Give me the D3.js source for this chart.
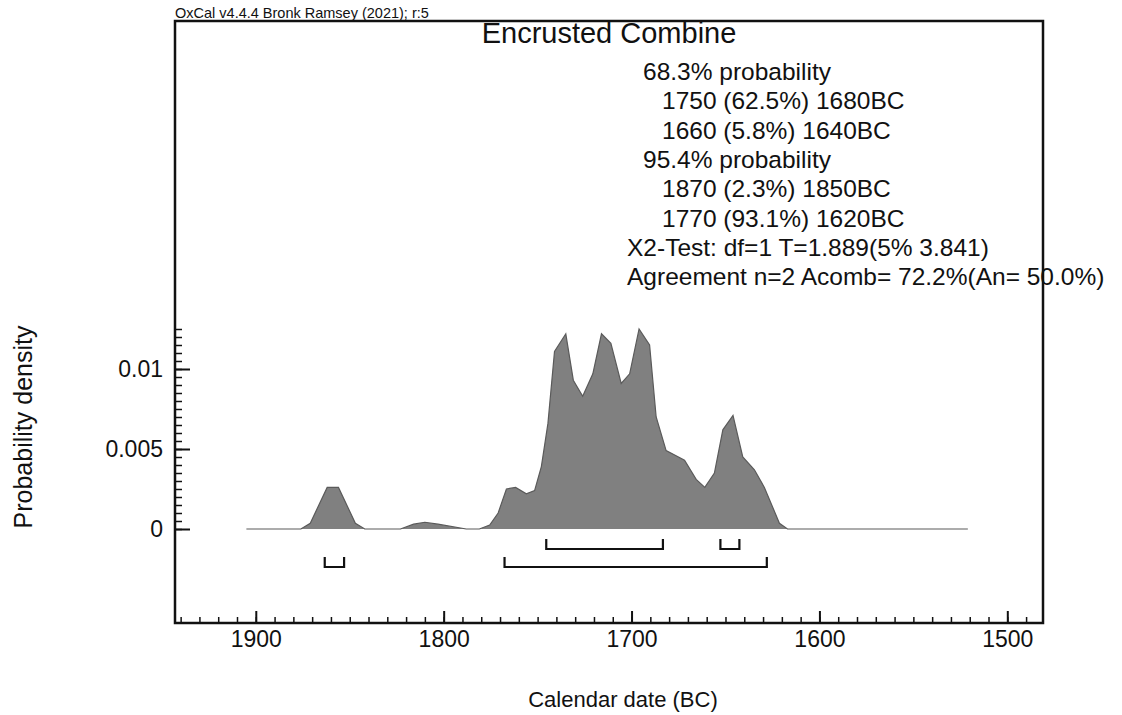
<!DOCTYPE html>
<html>
<head>
<meta charset="utf-8">
<script src="https://cdn.jsdelivr.net/npm/d3@7"></script>
<style>
  body { margin: 0; background: #fff; }
  text { font-family: "Liberation Sans", Arial, sans-serif; fill: #111; }
</style>
</head>
<body>
<svg id="chart" width="1122" height="715"></svg>
<script>
// calendar years BC and probability density
var years = [1905, 1876, 1871, 1862, 1856, 1847, 1842, 1823, 1816, 1810, 1803, 1788,
  1781, 1775.5, 1771, 1766.6, 1761.7, 1756, 1751.6, 1748, 1744.5, 1741, 1735, 1731, 1726,
  1720.6, 1716, 1711, 1705.5, 1701, 1696, 1690.4, 1686.9, 1681.6, 1671.8, 1665.6, 1661,
  1655.9, 1651.4, 1646, 1640.8, 1634.6, 1629.3, 1621.3, 1617, 1521];
var density = [0, 0, 0.00036, 0.0026, 0.0026, 0.00036, 0, 0, 0.0003, 0.00042, 0.0003, 0,
  0, 0.00025, 0.001, 0.0025, 0.0026, 0.0022, 0.0024, 0.0039, 0.0066, 0.0111, 0.0122, 0.0093, 0.0083,
  0.0097, 0.0122, 0.0116, 0.0091, 0.0097, 0.0125, 0.0115, 0.0070, 0.0049, 0.0043, 0.0031, 0.0026,
  0.0035, 0.0062, 0.0071, 0.0045, 0.0037, 0.0026, 0.00036, 0, 0];

// highest posterior density ranges (drawn extents)
var range68 = [[1745.4, 1683.3], [1652.7, 1642.6]];
var range95 = [[1863.3, 1853], [1767.6, 1628]];

var majorYears = [1900, 1800, 1700, 1600, 1500];
var yTicks = [0, 0.005, 0.01];
var yTickLabels = ["0", "0.005", "0.01"];

var title = "Encrusted Combine";
var header = "OxCal v4.4.4 Bronk Ramsey (2021); r:5";
var infoLines = [
  [0, "68.3% probability"],
  [1, "1750 (62.5%) 1680BC"],
  [1, "1660 (5.8%) 1640BC"],
  [0, "95.4% probability"],
  [1, "1870 (2.3%) 1850BC"],
  [1, "1770 (93.1%) 1620BC"],
  [-1, "X2-Test: df=1 T=1.889(5% 3.841)"],
  [-1, "Agreement n=2 Acomb= 72.2%(An= 50.0%)"]
];

var svg = d3.select("#chart");
var frameL = 175, frameR = 1043, frameT = 21, frameB = 623;

var x = d3.scaleLinear().domain([1943, 1481]).range([frameL, frameR]);
var y = d3.scaleLinear().domain([0, 0.0125]).range([529, 329]);

var pts = years.map(function(d, i) { return [d, density[i]]; });

// density area
svg.append("path")
   .datum(pts)
   .attr("d", d3.area().x(function(d) { return x(d[0]); }).y0(y(0)).y1(function(d) { return y(d[1]); }))
   .attr("fill", "#808080");
svg.append("path")
   .datum(pts)
   .attr("d", d3.line().x(function(d) { return x(d[0]); }).y(function(d) { return y(d[1]); }))
   .attr("fill", "none")
   .attr("stroke", "#5a5a5a")
   .attr("stroke-width", 1.2);

// range brackets
function brackets(ranges, yy) {
  svg.selectAll(null)
     .data(ranges)
     .enter().append("path")
     .attr("d", function(d) {
       return "M" + x(d[0]) + "," + (yy - 10) + "V" + yy + "H" + x(d[1]) + "V" + (yy - 10);
     })
     .attr("fill", "none")
     .attr("stroke", "#111")
     .attr("stroke-width", 2.2);
}
brackets(range68, 549);
brackets(range95, 567);

// x axis, minor then major
var minorX = d3.range(1940, 1480, -10);
svg.append("g")
   .attr("transform", "translate(0," + frameB + ")")
   .call(d3.axisBottom(x).tickValues(minorX).tickSize(-6).tickFormat(""))
   .call(function(g) { g.select(".domain").remove(); g.selectAll("line").attr("stroke", "#111").attr("stroke-width", 1.5); });
var xg = svg.append("g")
   .attr("transform", "translate(0," + frameB + ")")
   .call(d3.axisBottom(x).tickValues(majorYears).tickSize(-12).tickPadding(8).tickFormat(d3.format("d")));
xg.select(".domain").remove();
xg.selectAll("line").attr("stroke", "#111").attr("stroke-width", 2);
xg.selectAll("text").attr("font-size", 23).attr("font-family", "Liberation Sans, Arial, sans-serif").attr("fill", "#111");

// y axis
var minorY = d3.range(0, 0.01251, 0.0005);
svg.append("g")
   .attr("transform", "translate(" + frameL + ",0)")
   .call(d3.axisLeft(y).tickValues(minorY).tickSize(-7).tickFormat(""))
   .call(function(g) { g.select(".domain").remove(); g.selectAll("line").attr("stroke", "#111").attr("stroke-width", 1.5); });
var yg = svg.append("g")
   .attr("transform", "translate(" + frameL + ",0)")
   .call(d3.axisLeft(y).tickValues(yTicks).tickSize(-15).tickPadding(12)
     .tickFormat(function(d, i) { return yTickLabels[i]; }));
yg.select(".domain").remove();
yg.selectAll("line").attr("stroke", "#111").attr("stroke-width", 2);
yg.selectAll("text").attr("font-size", 23).attr("font-family", "Liberation Sans, Arial, sans-serif").attr("fill", "#111");

// frame
svg.append("rect")
   .attr("x", frameL).attr("y", frameT)
   .attr("width", frameR - frameL).attr("height", frameB - frameT)
   .attr("fill", "none").attr("stroke", "#111").attr("stroke-width", 2.5);

// texts
svg.append("text").attr("x", frameL).attr("y", 18).attr("font-size", 14.5).text(header);
svg.append("text").attr("x", (frameL + frameR) / 2).attr("y", 43).attr("text-anchor", "middle")
   .attr("font-size", 29).text(title);

svg.selectAll(".info")
   .data(infoLines)
   .enter().append("text")
   .attr("class", "info")
   .attr("x", function(d) { return 643 + d[0] * (d[0] < 0 ? 16 : 19); })
   .attr("y", function(d, i) { return 80 + i * 29.3; })
   .attr("font-size", 24.5)
   .text(function(d) { return d[1]; });

svg.append("text")
   .attr("x", (frameL + frameR) / 2 + 14).attr("y", 707)
   .attr("text-anchor", "middle").attr("font-size", 22)
   .text("Calendar date (BC)");

svg.append("text")
   .attr("transform", "translate(32,427) rotate(-90)")
   .attr("text-anchor", "middle").attr("font-size", 25)
   .text("Probability density");
</script>
</body>
</html>
